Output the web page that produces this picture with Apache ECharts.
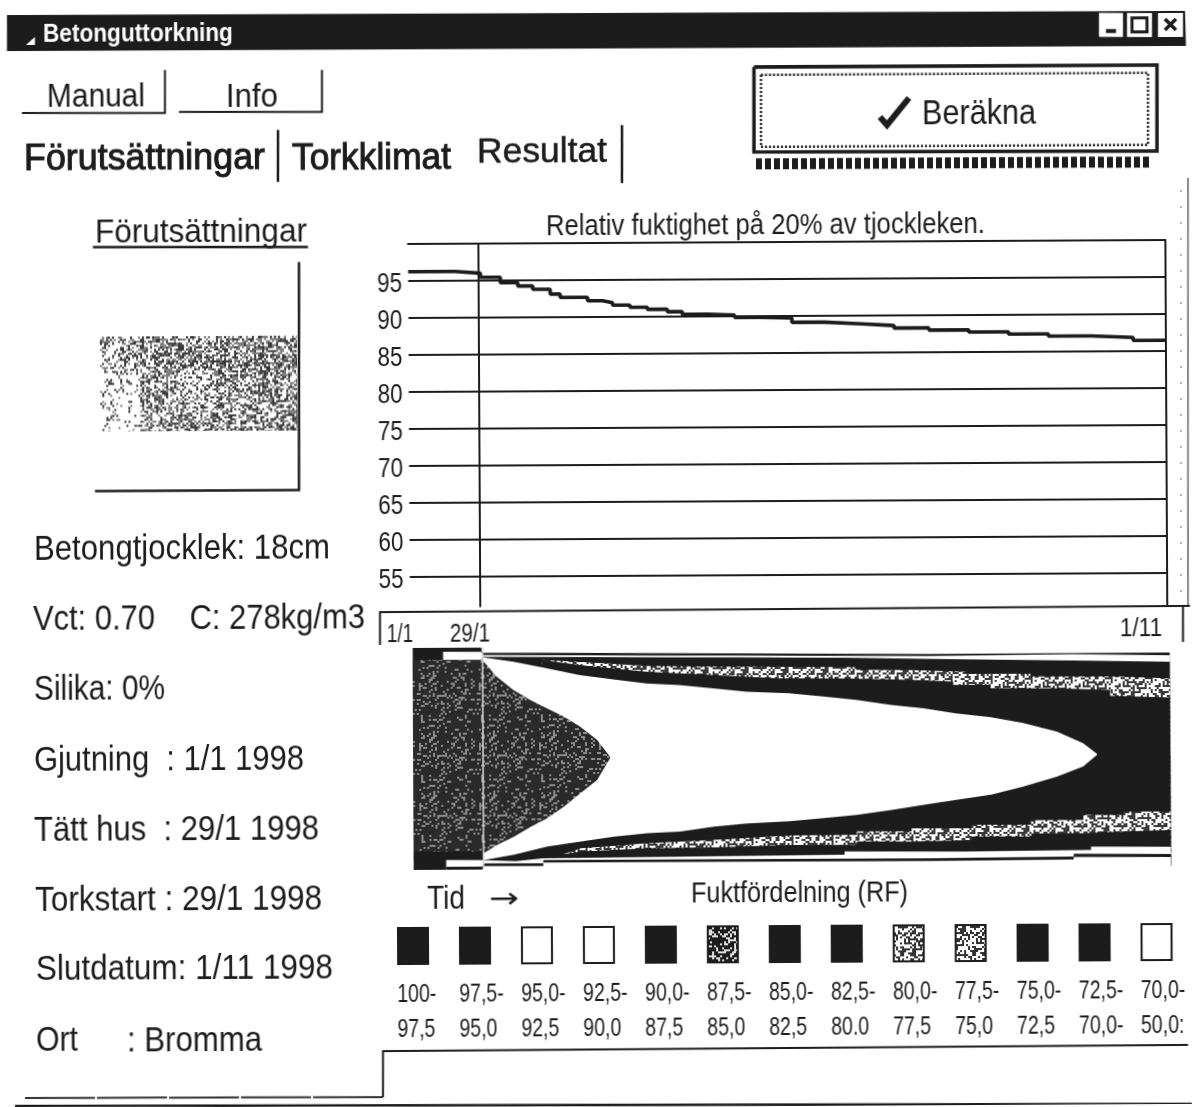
<!DOCTYPE html>
<html>
<head>
<meta charset="utf-8">
<style>
html,body{margin:0;padding:0;background:#fff;overflow:hidden}
#chart{width:1192px;height:1107px;transform:rotate(-0.3deg);transform-origin:596px 553px;filter:blur(0.35px)}
</style>
<script src="https://cdn.jsdelivr.net/npm/echarts@6/dist/echarts.min.js"></script>
</head>
<body>
<div id="chart"></div>
<script>
// ---- upper chart: relative humidity at 20% of the thickness (days after 1/1, RF %) ----
const rfDays = [0,19,29,37,44,50,57,61,72,78,82,89,96,104,110,120,131,141,154,167,182,195,209,225,241,257,274,291,304];
const rfValues = [96.27,96.01,95.46,94.71,94.25,93.79,93.14,92.68,92.21,91.94,91.6,91.29,91,90.67,90.3,90.16,89.86,89.75,89.14,88.89,88.64,88.3,88,87.71,87.41,87.11,86.86,86.46,86.46];
const rfTicks = [95,90,85,80,75,70,65,60,55];
const markerDay = 28;
const chartTitle = 'Relativ fuktighet på 20% av tjockleken.';

// ---- lower chart: moisture bands, [day, depth in % of thickness] ----
const topEdge = [[0,0],[27.5,0],[28,2.4],[52,2.5],[52,3],[207,3.9],[207,3],[304,3.85]];
const topGap = [[12.2,1.8],[27.5,1.9],[28,3.4],[207,4.8],[207,4.1],[265,4.4],[304,5.1]];
const outerBlackTop = [[12.2,5.5],[27.5,5.6],[28,4.2],[173,5.4],[173,6.1],[221,6.4],[221,7],[271,7.3],[271,7.8],[304,8]];
const textureTop = [[52,5.7],[67,6.6],[94,8.7],[120,9.1],[178,9.7],[178,10.9],[200,11.1],[200,11.9],[222,12],[222,13],[248,13.1],[248,14.3],[283,14.5],[283,15.3],[304,15.5]];
const innerBlackTop = [[52,5.7],[67,8.1],[94,11.3],[121,12.9],[146,14.5],[174,14.7],[174,15.4],[200,15.5],[200,16.3],[217,16.4],[217,17.9],[232,18],[232,19.5],[258,19.7],[258,20.4],[280,20.5],[280,23.2],[304,24.1]];
const whiteTop = [[28,4.4],[40.3,6.4],[53.7,9.5],[67,12.6],[80.5,14.6],[93.8,16.5],[107,17.3],[120.6,18.9],[134,20.5],[151,21.3],[165,22.9],[178,24.4],[192,26.8],[205,28.4],[218,30.7],[232,32.6],[245,35.3],[258.5,39.2],[269,44.5],[274.6,49.3]];
const coreTop = [[0,5.4],[28,5.6],[33.6,13.1],[40.3,19.1],[47,23.7],[53.7,27.5],[60.4,31.2],[67,35.8],[73.8,41.8],[79,49.4]];
const coreBottom = [[28,92.7],[33.6,88.9],[40.3,85.2],[47,80.8],[53.7,77],[60.4,71.9],[67,65.9],[73.8,59.9],[79,50.2],[80,50.2]];
const lowerBlackTop = [[0,91.7],[27.5,91.9],[28,95.7],[40.3,93.4],[53.7,89.8],[67,87.6],[80.5,85.5],[93.8,84],[107,83.3],[120.6,81.2],[134,79.8],[151,78.9],[165,77.6],[178,76.2],[192,74.1],[205,71.9],[218,69.7],[232,67.5],[245,63.9],[258.5,59.5],[269,55],[274.6,49.8],[304,49.8]];
const lowerTextureTop = [[60,93.3],[67,90.6],[94,88.5],[121,87.2],[151,85.4],[178,85.2],[178,83.7],[200,83.8],[200,82.4],[224,82.5],[224,81],[248,81.1],[248,79],[269,79],[269,76.8],[285,76.9],[285,75.4],[304,75.5]];
const lowerOuterBlackTop = [[60,93.3],[67,92.1],[94,90.8],[121,90.5],[151,89.6],[178,89.7],[178,88.2],[200,88.4],[200,87.7],[224,87.8],[224,86.3],[248,86.4],[248,85],[269,85],[269,84.3],[285,84.3],[285,83.7],[304,83.8]];
const lowerGap = [[13,95.6],[27.5,95.7],[28,96.2],[41,96.3],[52,95],[173,94.2],[173,92.7],[221,93],[221,92.3],[272,92.6],[272,91.1],[304,91.3]];
const lowerThin = [[13,98.6],[27.5,98.7],[28,97.2],[52,97.3],[52,95.8],[208,95.9],[208,95.2],[265,95.5],[265,94.3],[304,94.6]];
const lowerEdge = [[0,100],[27.5,100],[28,98.4],[52,98.5],[52,97],[208,97.2],[208,96.5],[265,96.8],[265,95.7],[304,96]];

// ---- legend ----
const legendTop = ['100-','97,5-','95,0-','92,5-','90,0-','87,5-','85,0-','82,5-','80,0-','77,5-','75,0-','72,5-','70,0-'];
const legendBottom = ['97,5','95,0','92,5','90,0','87,5','85,0','82,5','80.0','77,5','75,0','72,5','70,0-','50,0:'];
const legendFill = ['black','black','white','white','black','dark','black','black','light','light','black','black','white'];

// ---- interface text ----
const slabLines = ['Betongtjocklek: 18cm','Vct: 0.70    C: 278kg/m3','Silika: 0%','Gjutning  : 1/1 1998','Tätt hus  : 29/1 1998','Torkstart : 29/1 1998','Slutdatum: 1/11 1998','Ort',': Bromma'];

const INK = '#1c1c1c';
const FONT = '"Liberation Sans", Arial, sans-serif';

// deterministic texture noise
function h(i,j){let n=(Math.imul(i,374761393)+Math.imul(j,668265263))|0;n=Math.imul(n^(n>>>13),1274126177);return((n^(n>>>16))>>>0)/4294967296;}
function tex(w,c,base,ink,den){
  const cv=document.createElement('canvas');cv.width=cv.height=w;const x=cv.getContext('2d');
  x.fillStyle=base;x.fillRect(0,0,w,w);x.fillStyle=ink;
  for(let i=0;i<w/c;i++)for(let j=0;j<w/c;j++){if(h(i+3,j+7)<den)x.fillRect(i*c,j*c,c,c);}
  return cv;
}
const darkPat={image:tex(60,2,'#2a2a2a','#8c8c8c',0.2),repeat:'repeat'};
const lightPat={image:tex(40,2,'#ffffff','#3a3a3a',0.42),repeat:'repeat'};
const fills={black:INK,white:'#ffffff',dark:{image:tex(36,2,'#1c1c1c','#e0e0e0',0.3),repeat:'repeat'},light:{image:tex(36,2,'#ffffff','#333333',0.42),repeat:'repeat'}};

// concrete sample picture
function slabCanvas(){
  const W=197,H=95,cv=document.createElement('canvas');cv.width=W;cv.height=H;const x=cv.getContext('2d');
  for(let i=0;i<W/2;i++)for(let j=0;j<H/2;j++){
    const u=2*i/W,v=2*j/H;let d=v<0.36?0.64:0.55;
    if(v>=0.36&&u<0.2)d=0.15;
    if(v<0.36&&u<0.2)d=0.42;
    const dx=(u-0.5)/0.12,dy=(v-0.55)/0.24,r=dx*dx+dy*dy;if(r<1)d=0.25+0.3*r;
    if(h(i+11,j+29)<d){x.fillStyle=h(j,i)<0.5?'#3a3a3a':'#808080';x.fillRect(i*2,j*2,2,2);}
  }
  return cv;
}

// un-tilt measured positions
const TH=0.0052;
const P=(x,y)=>[x-TH*(y-553),y+TH*(x-596)];
const meas=document.createElement('canvas').getContext('2d');
const els=[];
function T(text,x0,x1,y,size,weight,color,family,stroke){
  const font=(weight||'normal')+' '+size+'px '+(family||FONT);
  meas.font=font;const w=meas.measureText(text).width;const p=P(x0,y+size*0.07);
  const style={text:text,font:font,fill:color||INK,textAlign:'left',textVerticalAlign:'middle'};
  if(stroke){style.stroke=color||INK;style.lineWidth=stroke;}
  els.push({type:'text',x:p[0],y:p[1],scaleX:(x1-x0)/w,z:100,silent:true,style:style});
}
function L(pts,w,color,dash){
  els.push({type:'polyline',z:100,silent:true,shape:{points:pts.map(p=>P(p[0],p[1]))},
    style:{stroke:color||INK,lineWidth:w,fill:null,lineDash:dash||null}});
}
function R(x0,y0,x1,y1,fill){
  els.push({type:'polygon',z:90,silent:true,shape:{points:[P(x0,y0),P(x1,y0),P(x1,y1),P(x0,y1)]},style:{fill:fill}});
}
// title bar
R(7,15.5,1185,12,INK);
els[els.length-1].shape.points=[P(7,15),P(1185,11),P(1186,46),P(7,51)];
T('Betonguttorkning',43,233,33,25,'bold','#fff');
els.push({type:'polygon',z:100,silent:true,shape:{points:[P(26,45),P(35,45),P(35,37)]},style:{fill:'#fff'}});
R(1099,13,1123,37,'#fff');R(1127,13,1152,37,'#fff');R(1158,13,1183,37,'#fff');
L([[1106,31],[1116,31]],4);
els.push({type:'rect',z:100,silent:true,shape:(()=>{const p=P(1132,18);return{x:p[0],y:p[1],width:15,height:14};})(),style:{stroke:INK,lineWidth:3,fill:null}});
L([[1165,19],[1176,30]],3.5);L([[1176,19],[1165,30]],3.5);
// buttons
T('Manual',47,145,95,34);L([[22,113],[165,113],[165,70]],2);
T('Info',226,278,95,34);L([[179,112],[322,112],[322,70]],2);
T('Förutsättningar',24,265,158,36,'normal',INK,null,1);L([[278,130],[278,182]],2.5);
T('Torkklimat',292,451,157,36,'normal',INK,null,1);
T('Resultat',477,607,151,35,'normal',INK,null,0.5);L([[622,125],[622,183]],2.5);
L([[754,67],[1157,65],[1157,151],[754,152],[754,67]],3.5);
L([[761,75],[1148,73],[1148,145],[761,147],[761,75]],2.5,INK,[2,2]);
L([[880,117],[887,125],[909,98]],6);
T('Beräkna',922,1036,112,35);
L([[756,164],[1150,162]],11,INK,[6,3]);
L([[1188,178],[1188,606]],1.5,'#666');L([[1181,190],[1181,604]],1.5,'#999',[2,14]);
// left column
T('Förutsättningar',95,307,231,33);L([[93,247],[308,247]],2.5);
L([[299,262],[299,490],[95,491]],2.5);
(()=>{const p=P(100,337);els.push({type:'image',z:100,silent:true,x:p[0],y:p[1],style:{image:slabCanvas(),x:0,y:0,width:197,height:95}});})();
const slabX=[[34,330,548],[33,365,618],[34,165,688],[34,304,759],[34,319,829],[35,322,899],[36,333,968],[36,78,1039],[127,262,1039]];
slabLines.forEach((s,i)=>T(s,slabX[i][0],slabX[i][1],slabX[i][2],35));
// chart title & panels
T(chartTitle,546,985,225,29);
R(385,607,1186,617,'#fff');
L([[380,645],[380,612],[1190,606]],2);L([[1183,607],[1183,642]],2);
T('1/1',387,413,633,26);T('29/1',450,490,633,26);T('1/11',1120,1162,627,26);
T('Tid',427,465,897,33);T('→',489,519,898,28,'normal',INK,'"DejaVu Sans"');
T('Fuktfördelning (RF)',691,908,892,29);
L([[1188,1045],[383,1051],[383,1097]],2);
L([[383,1097],[25,1098]],2,'#333',[70,2]);
L([[15,1106],[1192,1104]],2.5);

// ---- layered band series: each fills from its boundary down to the bottom of the plot ----
const band=(data,color)=>({type:'line',xAxisIndex:1,yAxisIndex:2,data:data,showSymbol:false,symbol:'none',silent:true,animation:false,
  lineStyle:{width:0,opacity:0},areaStyle:{color:color,opacity:1,origin:'end'},clip:true,z:3});
const bands=[
  band(topEdge,INK),band(topGap,'#fff'),band(outerBlackTop,INK),band(textureTop,lightPat),band(innerBlackTop,INK),
  band(whiteTop,'#fff'),band(coreTop,darkPat),band(coreBottom,'#fff'),band(lowerBlackTop,INK),
  band(lowerTextureTop,lightPat),band(lowerOuterBlackTop,INK),band(lowerGap,'#fff'),band(lowerThin,INK),band(lowerEdge,'#fff')
];
bands[bands.length-1].markLine={silent:true,symbol:'none',animation:false,label:{show:false},
  lineStyle:{color:'#d8d8d8',width:1.5,type:'solid'},data:[{xAxis:markerDay}]};

const option={
  animation:false,backgroundColor:'#fff',
  grid:[
    {left:409.6,top:243.1,width:757,height:369.8},
    {left:412.2,top:647,width:757,height:222},
    {left:380,top:926,width:805.5,height:38}
  ],
  xAxis:[
    {gridIndex:0,type:'value',min:0,max:304,position:'top',axisLine:{show:true,onZero:false,lineStyle:{color:INK,width:2}},axisTick:{show:false},axisLabel:{show:false},splitLine:{show:false}},
    {gridIndex:1,type:'value',min:0,max:304,show:false},
    {gridIndex:2,type:'category',data:legendTop,axisLine:{show:false},axisTick:{show:false},axisLabel:{show:false}}
  ],
  yAxis:[
    {gridIndex:0,type:'value',min:50,max:100,interval:5,axisLine:{show:false},axisTick:{show:false},axisLabel:{show:false},
      splitLine:{show:true,lineStyle:{color:INK,width:2}}},
    {gridIndex:0,type:'value',min:50,max:100,interval:5,position:'right',axisLine:{show:true,lineStyle:{color:INK,width:2}},axisTick:{show:false},axisLabel:{show:false},splitLine:{show:false}},
    {gridIndex:1,type:'value',min:0,max:100,inverse:true,show:false},
    {gridIndex:2,type:'value',min:0,max:1,show:false}
  ],
  series:[
    {type:'line',xAxisIndex:0,yAxisIndex:0,step:'end',data:rfDays.map((d,i)=>[d,rfValues[i]]),showSymbol:false,symbol:'none',silent:true,
      lineStyle:{color:INK,width:3.6},z:5,
      markLine:{silent:true,symbol:'none',animation:false,label:{show:false},lineStyle:{color:INK,width:2,type:'solid'},data:[{xAxis:markerDay}]}},
    ...bands,
    {type:'bar',xAxisIndex:2,yAxisIndex:3,barWidth:32,silent:true,z:4,
      data:legendFill.map(f=>({value:1,itemStyle:{color:fills[f],borderColor:INK,borderWidth:2,opacity:1}}))}
  ]
};
const chart=echarts.init(document.getElementById('chart'),null,{renderer:'canvas',width:1192,height:1107});
chart.setOption(option);

// tick and legend labels placed from the axis scales (the condensed lettering needs horizontal scaling)
function S(text,x,y,size,sx){
  els.push({type:'text',x:x,y:y,scaleX:sx,z:100,silent:true,style:{text:text,font:size+'px '+FONT,fill:INK,textAlign:'left',textVerticalAlign:'middle'}});
}
rfTicks.forEach(v=>{
  const y=chart.convertToPixel({yAxisIndex:0},v);
  S(String(v),378.5,y+3,28,0.8);
});
legendTop.forEach((t,i)=>{
  const x=chart.convertToPixel({xAxisIndex:2},i);
  S(t,x-16,994,25,0.78);
  S(legendBottom[i],x-16,1029,25,0.78);
});
chart.setOption({graphic:{elements:els}});
</script>
</body>
</html>
